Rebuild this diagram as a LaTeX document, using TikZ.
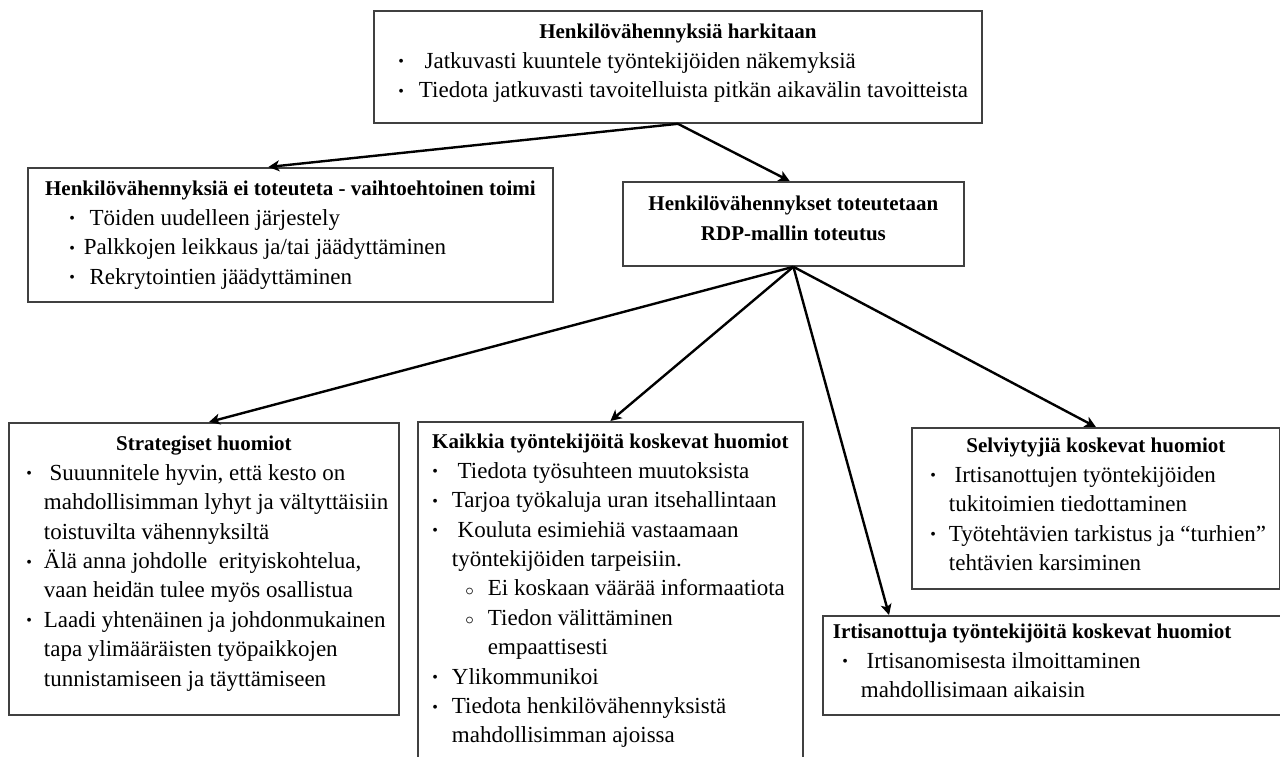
\documentclass[tikz,border=0pt]{standalone}
\usepackage{fontspec}
\setmainfont{Liberation Serif}
\usepackage{enumitem}
\usetikzlibrary{arrows.meta}

\newcommand{\ttl}{\fontsize{10.5}{14.7}\selectfont\bfseries}
\newcommand{\txt}{\fontsize{11.5}{14.7}\selectfont}
\newcommand{\dotlbl}{\raisebox{0.7pt}{\fontsize{8}{8}\selectfont\textbullet}}
\newcommand{\ringlbl}{\raisebox{0.3pt}{$\scriptstyle\circ$}}
% width, height, top gap, body
\newcommand{\card}[4]{\parbox[t][#2][t]{#1}{\txt\raggedright\vspace*{#3}#4}}
\newenvironment{blist}[2]{\begin{itemize}[leftmargin=#1,labelsep=#2,label=\dotlbl,nosep]}{\end{itemize}}
\newenvironment{rlist}[2]{\begin{itemize}[leftmargin=#1,labelsep=#2,label=\ringlbl,nosep]}{\end{itemize}}

\begin{document}
\begin{tikzpicture}[
                        x=0.5pt, y=-0.5pt,
                        >={Stealth[length=5.5pt,width=5.5pt,inset=1.5pt]},
                        box/.style={draw=black!75, line width=0.9pt, inner sep=0pt, anchor=north west},
                        link/.style={->, line width=1.2pt}
                    ]
                    \path[use as bounding box, fill=white] (0,0) rectangle (1280,756);

                    % Blocks
                    \node [box] (consider) at (373,10) {\card{304pt}{56pt}{3.7pt}{%
                        {\centering\ttl\strut Henkilövähennyksiä harkitaan\par}
                        \begin{blist}{22.5pt}{7.5pt}
                            \item \ Jatkuvasti kuuntele työntekijöiden näkemyksiä
                            \item Tiedota jatkuvasti tavoitelluista pitkän aikavälin tavoitteista
                        \end{blist}}};
                    \node [box] (alt) at (27,167) {\card{262.5pt}{67pt}{3.7pt}{%
                        {\centering\ttl\strut Henkilövähennyksiä ei toteuteta - vaihtoehtoinen toimi\par}
                        \begin{blist}{28pt}{4.5pt}
                            \item \ Töiden uudelleen järjestely
                            \item Palkkojen leikkaus ja/tai jäädyttäminen
                            \item \ Rekrytointien jäädyttäminen
                        \end{blist}}};
                    \node [box] (rdp) at (622,181) {\card{170.5pt}{42pt}{4.2pt}{%
                        {\centering\ttl\strut Henkilövähennykset toteutetaan\\ RDP-mallin toteutus\par}}};
                    \node [box] (strat) at (8,422) {\card{195pt}{146pt}{3.7pt}{%
                        {\centering\ttl\strut Strategiset huomiot\par}
                        \begin{blist}{17.5pt}{6pt}
                            \item \ Suuunnitele hyvin, että kesto on\\ mahdollisimman lyhyt ja vältyttäisiin\\ toistuvilta vähennyksiltä
                            \item Älä anna johdolle\ \ erityiskohtelua,\\ vaan heidän tulee myös osallistua
                            \item Laadi yhtenäinen ja johdonmukainen\\ tapa ylimääräisten työpaikkojen\\ tunnistamiseen ja täyttämiseen
                        \end{blist}}};
                    \node [box] (allemp) at (417,421) {\card{192.5pt}{185pt}{3.2pt}{%
                        {\centering\ttl\strut Kaikkia työntekijöitä koskevat huomiot\par}
                        \begin{blist}{17pt}{7pt}
                            \item \ Tiedota työsuhteen muutoksista
                            \item Tarjoa työkaluja uran itsehallintaan
                            \item \ Kouluta esimiehiä vastaamaan\\ työntekijöiden tarpeisiin.
                            \begin{rlist}{18pt}{7pt}
                                \item Ei koskaan väärää informaatiota
                                \item Tiedon välittäminen\\ empaattisesti
                            \end{rlist}
                            \item Ylikommunikoi
                            \item Tiedota henkilövähennyksistä\\ mahdollisimman ajoissa
                        \end{blist}}};
                    \node [box] (survivors) at (911,427) {\card{184pt}{80.5pt}{2.2pt}{%
                        {\centering\ttl\strut Selviytyjiä koskevat huomiot\par}
                        \begin{blist}{18.5pt}{6.5pt}
                            \item \ Irtisanottujen työntekijöiden\\ tukitoimien tiedottaminen
                            \item Työtehtävien tarkistus ja “turhien”\\ tehtävien karsiminen
                        \end{blist}}};
                    \node [box] (laidoff) at (822,615) {\card{231pt}{49.5pt}{1.2pt}{%
                        {\ttl\strut\hspace*{5pt}Irtisanottuja työntekijöitä koskevat huomiot\par}
                        \begin{blist}{19pt}{6.5pt}
                            \item \ Irtisanomisesta ilmoittaminen\\ mahdollisimaan aikaisin
                        \end{blist}}};

                    % Connections
                    \draw [link] (consider.south) -- (alt.108);
                    \draw [link] (consider.south) -- (rdp.95);
                    \draw [link] (rdp.south) -- (strat.88);
                    \draw [link] (rdp.south) -- (allemp.north);
                    \draw [link] (rdp.south) -- (laidoff.163);
                    \draw [link] (rdp.south) -- (survivors.north);
                \end{tikzpicture}
\end{document}
